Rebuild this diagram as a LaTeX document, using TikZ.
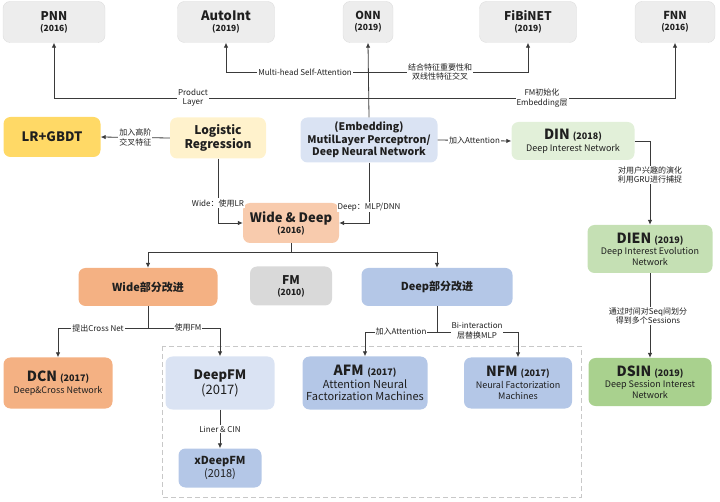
\documentclass[tikz,border=0pt]{standalone}
\usepackage{fontspec}
\setmainfont{Noto Sans CJK SC}
\usetikzlibrary{arrows.meta}
\definecolor{txt}{HTML}{1F1F1F}
\definecolor{ln}{HTML}{3A3A3A}
\definecolor{cTop}{HTML}{EDEDED}
\definecolor{cTopB}{HTML}{DDDDDD}
\definecolor{cGbdt}{HTML}{FFD966}
\definecolor{cLr}{HTML}{FFF2CC}
\definecolor{cBlueL}{HTML}{DAE3F3}
\definecolor{cBlue}{HTML}{B4C7E7}
\definecolor{cGreenL}{HTML}{E2F0D9}
\definecolor{cGreen}{HTML}{C5E0B4}
\definecolor{cGreenD}{HTML}{A9D18E}
\definecolor{cPeach}{HTML}{F8CBAD}
\definecolor{cOrange}{HTML}{F4B183}
\definecolor{cGray}{HTML}{D9D9D9}
\definecolor{cDash}{HTML}{C8C8C8}
\newcommand\myfs[2]{\fontsize{#1}{#2}\selectfont}
\begin{document}
\begin{tikzpicture}[x=1pt,y=-1pt,
  box/.style={rounded corners=7pt, inner sep=1pt, align=center, text=txt, draw=none},
  topbox/.style={box, fill=cTop, draw=cTopB, line width=0.4pt},
  sz/.style 2 args={minimum width=#1pt, minimum height=#2pt},
  plain/.style={draw=ln, line width=0.8pt},
  conn/.style={draw=ln, line width=0.8pt, -{Latex[length=5pt,width=4.5pt]}},
  lbl/.style={fill=white, inner sep=1pt, align=center, text=txt, font=\myfs{8}{9.5}}]
\useasboundingbox (0,0) rectangle (720,502);
% dashed group frame
\draw[cDash, line width=0.8pt, dash pattern=on 5pt off 3pt] (162,346) rectangle (581,497);
% top row
\node[topbox, sz={102}{41}, font=\myfs{8.5}{11}\bfseries] (pnn) at (54,22) {{\myfs{12}{14}\bfseries PNN}\\(2016)};
\node[topbox, sz={97}{41}, font=\myfs{8.5}{11}\bfseries] (autoint) at (226,22) {{\myfs{13}{15}\bfseries AutoInt}\\(2019)};
\node[topbox, sz={50}{41}, font=\myfs{8.5}{11}\bfseries] (onn) at (368,22) {{\myfs{11}{13}\bfseries ONN}\\(2019)};
\node[topbox, sz={97}{41}, font=\myfs{8.5}{11}\bfseries] (fibinet) at (528,22) {{\myfs{12}{14}\bfseries FiBiNET}\\(2019)};
\node[topbox, sz={80}{41}, font=\myfs{8.5}{11}\bfseries] (fnn) at (675,22) {{\myfs{11}{13}\bfseries FNN}\\(2016)};
% second row
\node[box, fill=cGbdt, sz={97}{40}, font=\myfs{13}{15}\bfseries] (gbdt) at (52,137) {LR+GBDT};
\node[box, fill=cLr, sz={96}{41}, font=\myfs{12}{13.5}\bfseries] (lr) at (218,138) {Logistic\\Regression};
\node[box, fill=cBlueL, sz={137}{45}, font=\myfs{10.5}{12.5}\bfseries] (ml) at (369,140) {(Embedding)\\MutilLayer Perceptron/\\Deep Neural Network};
\node[box, fill=cGreenL, sz={123}{38}, font=\myfs{9}{12}] (din) at (573,141) {{\myfs{14}{15}\bfseries DIN}\,\,{\myfs{9}{10}\bfseries (2018)}\\Deep Interest Network};
% third row
\node[box, fill=cPeach, sz={96}{40}, font=\myfs{8.5}{11}\bfseries] (wd) at (291,223) {{\myfs{13}{15}\bfseries Wide \& Deep}\\(2016)};
\node[box, fill=cGreen, sz={125}{48}, font=\myfs{9}{11}] (dien) at (650,249) {{\myfs{14}{15}\bfseries DIEN}\,\,{\myfs{9}{10}\bfseries (2019)}\\Deep Interest Evolution\\Network};
\node[box, fill=cOrange, sz={139}{38}, font=\myfs{11}{13}\bfseries] (wide) at (148,287) {Wide部分改进};
\node[box, fill=cGray, sz={82}{39}, font=\myfs{8.5}{11}\bfseries] (fm) at (291,286) {{\myfs{12}{13}\bfseries FM}\\(2010)};
\node[box, fill=cBlue, sz={151}{38}, font=\myfs{11}{13}\bfseries] (deep) at (437,287) {Deep部分改进};
% fourth row
\node[box, fill=cOrange, sz={109}{51}, font=\myfs{9}{12}] (dcn) at (58,383) {{\myfs{14}{15}\bfseries DCN}\,\,{\myfs{9}{10}\bfseries (2017)}\\Deep\&Cross Network};
\node[box, fill=cBlueL, sz={109}{53}, font=\myfs{13}{15}] (dfm) at (220,383) {{\myfs{13}{15}\bfseries DeepFM}\\(2017)};
\node[box, fill=cBlue, sz={125}{53}, font=\myfs{11}{12.5}] (afm) at (365,383) {{\myfs{14}{15}\bfseries AFM}\,\,{\myfs{9}{10}\bfseries (2017)}\\Attention Neural\\Factorization Machines};
\node[box, fill=cBlue, sz={108}{51}, font=\myfs{9}{11.5}] (nfm) at (518,383) {{\myfs{14}{15}\bfseries NFM}\,\,{\myfs{9}{10}\bfseries (2017)}\\Neural Factorization\\Machines};
\node[box, fill=cGreenD, sz={123}{48}, font=\myfs{9}{11}] (dsin) at (650,382) {{\myfs{14}{15}\bfseries DSIN}\,\,{\myfs{9}{10}\bfseries (2019)}\\Deep Session Interest\\Network};
\node[box, fill=cBlue, sz={83}{39}, font=\myfs{11}{13}] (xdfm) at (220,468) {{\myfs{11}{13}\bfseries xDeepFM}\\(2018)};
% junction coordinates
\coordinate (jq) at (369,72);
\coordinate (jp) at (369,98);
\coordinate (ws) at (291,252);
\coordinate (wj) at (148,328);
\coordinate (dj) at (437,332);
% connectors top
\draw[conn] (ml.north) -- (onn.south);
\draw[conn] (jq) -| (autoint.south);
\draw[conn] (jq) -| (fibinet.south);
\draw[conn] (jp) -| (pnn.south);
\draw[conn] (jp) -| (fnn.south);
\node[lbl] (l1) at (305,72) {Multi-head Self-Attention};
\node[lbl] (l2) at (440,72) {结合特征重要性和\\双线性特征交叉};
\node[lbl] (l3) at (193,98) {Product\\Layer};
\node[lbl] (l4) at (542,98) {FM初始化\\Embedding层};
% second row connectors
\draw[conn] (lr.west) -- node[lbl] (l5) {加入高阶\\交叉特征} (gbdt.east);
\draw[conn] (ml.east) -- node[lbl] (l6) {加入Attention} (din.west);
\draw[conn] (din.east) -| (dien.north);
\node[lbl] (l7) at (650,175) {对用户兴趣的演化\\利用GRU进行捕捉};
\draw[conn] (lr.south) |- (wd.west);
\draw[conn] (ml.south) |- (wd.east);
\node[lbl] (l8) at (218,203) {Wide：使用LR};
\node[lbl] (l9) at (369,207) {Deep：MLP/DNN};
% wide & deep split
\draw[plain] (wd.south) -- (ws);
\draw[conn] (ws) -| (wide.north);
\draw[conn] (ws) -| (deep.north);
% wide split
\draw[plain] (wide.south) -- (wj);
\draw[conn] (wj) -| (dcn.north);
\draw[conn] (wj) -| (dfm.north);
\node[lbl] (l10) at (98,328) {提出Cross Net};
\node[lbl] (l11) at (188,327) {使用FM};
% deep split
\draw[plain] (deep.south) -- (dj);
\draw[conn] (dj) -| (afm.north);
\draw[conn] (dj) -| (nfm.north);
\node[lbl] (l12) at (401,332) {加入Attention};
\node[lbl] (l13) at (477,331) {Bi-interaction\\层替换MLP};
% deepfm -> xdeepfm
\draw[conn] (dfm.south) -- (xdfm.north);
\node[lbl] (l14) at (220,429) {Liner \& CIN};
% dien -> dsin
\draw[conn] (dien.south) -- (dsin.north);
\node[lbl] (l15) at (648,316) {通过时间对Seq间划分\\得到多个Sessions};
\end{tikzpicture}
\end{document}
